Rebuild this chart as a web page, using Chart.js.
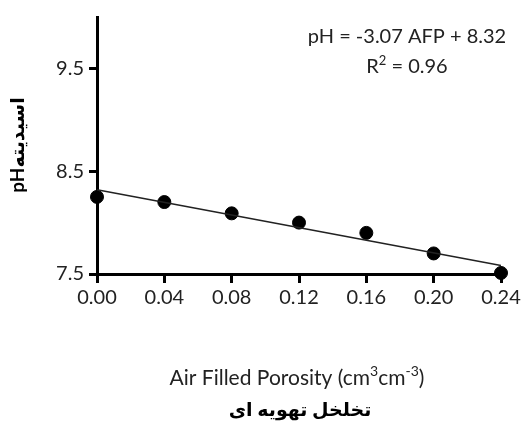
<!DOCTYPE html>
<html>
<head>
<meta charset="utf-8">
<script src="https://cdn.jsdelivr.net/npm/chart.js@4"></script>
<style>
  html, body { margin: 0; padding: 0; background: #fff; }
  #wrap { width: 526px; height: 426px; }
</style>
</head>
<body>
<div id="wrap"><canvas id="chart" width="526" height="426"></canvas></div>
<script>
// air filled porosity (x) and measured pH (y)
const afpValues = [0.00, 0.04, 0.08, 0.12, 0.16, 0.20, 0.24];
const phValues = [8.25, 8.2, 8.09, 8.0, 7.9, 7.7, 7.51];
const xTicks = [0.00, 0.04, 0.08, 0.12, 0.16, 0.20, 0.24];
const yTicks = [7.5, 8.5, 9.5];
// fitted line from the equation on the chart
const slope = -3.07;
const intercept = 8.32;
// text pieces: [text, isSuperscript]
const eqLine1 = [["pH = -3.07 AFP + 8.32", false]];
const eqLine2 = [["R", false], ["2", true], [" = 0.96", false]];
const xTitle = [["Air Filled Porosity (cm", false], ["3", true], ["cm", false], ["-3", true], [")", false]];
const xTitleFa = "تخلخل تهویه ای";
const yTitle = "pHاسیدیته";

const FONT = "Lato, 'DejaVu Sans', sans-serif";

const trendPoints = [
  { x: xTicks[0], y: intercept + slope * xTicks[0] },
  { x: xTicks[xTicks.length - 1], y: intercept + slope * xTicks[xTicks.length - 1] },
];

// draws a line with superscripts, centered on cx
function drawRich(ctx, parts, cx, cy, size) {
  const supSize = Math.round(size * 0.65);
  let total = 0;
  parts.forEach(([t, sup]) => {
    ctx.font = (sup ? supSize : size) + "px " + FONT;
    total += ctx.measureText(t).width;
  });
  let x = cx - total / 2;
  ctx.textAlign = "left";
  parts.forEach(([t, sup]) => {
    ctx.font = (sup ? supSize : size) + "px " + FONT;
    ctx.fillText(t, x, sup ? cy - size * 0.33 : cy);
    x += ctx.measureText(t).width;
  });
}

const textPlugin = {
  id: "extraText",
  afterDraw(chart) {
    const ctx = chart.ctx;
    ctx.save();
    ctx.fillStyle = "#222";
    ctx.textBaseline = "middle";
    drawRich(ctx, eqLine1, 407, 37, 20);
    drawRich(ctx, eqLine2, 407, 67, 20);
    drawRich(ctx, xTitle, 297, 378, 21);
    ctx.textAlign = "center";
    ctx.font = "bold 19px " + FONT;
    ctx.fillStyle = "#000";
    ctx.fillText(xTitleFa, 300, 410);
    // y title
    ctx.translate(18, 145);
    ctx.rotate(-Math.PI / 2);
    ctx.fillText(yTitle, 0, 0);
    ctx.restore();
  },
};

new Chart(document.getElementById("chart"), {
  type: "scatter",
  data: {
    datasets: [
      {
        type: "line",
        data: trendPoints,
        borderColor: "#222",
        borderWidth: 1.5,
        pointRadius: 0,
        fill: false,
        clip: false,
      },
      {
        data: afpValues.map((x, i) => ({ x: x, y: phValues[i] })),
        backgroundColor: "#000",
        borderColor: "#000",
        pointRadius: 6.5,
        pointHoverRadius: 6.5,
        clip: false,
      },
    ],
  },
  options: {
    responsive: false,
    animation: false,
    layout: { padding: { top: 15, right: 25, left: 0, bottom: 0 } },
    plugins: {
      legend: { display: false },
      tooltip: { enabled: false },
    },
    scales: {
      x: {
        type: "linear",
        min: 0,
        max: 0.24,
        afterBuildTicks: (scale) => {
          scale.ticks = xTicks.map((v) => ({ value: v }));
        },
        afterFit: (scale) => {
          scale.height = 152;
        },
        ticks: {
          color: "#222",
          font: { family: FONT, size: 20 },
          padding: 3,
          maxRotation: 0,
          callback: (v) => Number(v).toFixed(2),
        },
        grid: {
          drawOnChartArea: false,
          drawTicks: true,
          tickLength: 9,
          lineWidth: 3,
          color: "#000",
        },
        border: { display: true, color: "#000", width: 3 },
      },
      y: {
        min: 7.5,
        max: 10,
        afterBuildTicks: (scale) => {
          scale.ticks = yTicks.map((v) => ({ value: v }));
        },
        afterFit: (scale) => {
          scale.width = 97;
        },
        ticks: {
          color: "#222",
          font: { family: FONT, size: 20 },
          padding: 5,
          callback: (v) => Number(v).toFixed(1),
        },
        grid: {
          drawOnChartArea: false,
          drawTicks: true,
          tickLength: 8,
          lineWidth: 3,
          color: "#000",
        },
        border: { display: true, color: "#000", width: 3 },
      },
    },
  },
  plugins: [textPlugin],
});
</script>
</body>
</html>
